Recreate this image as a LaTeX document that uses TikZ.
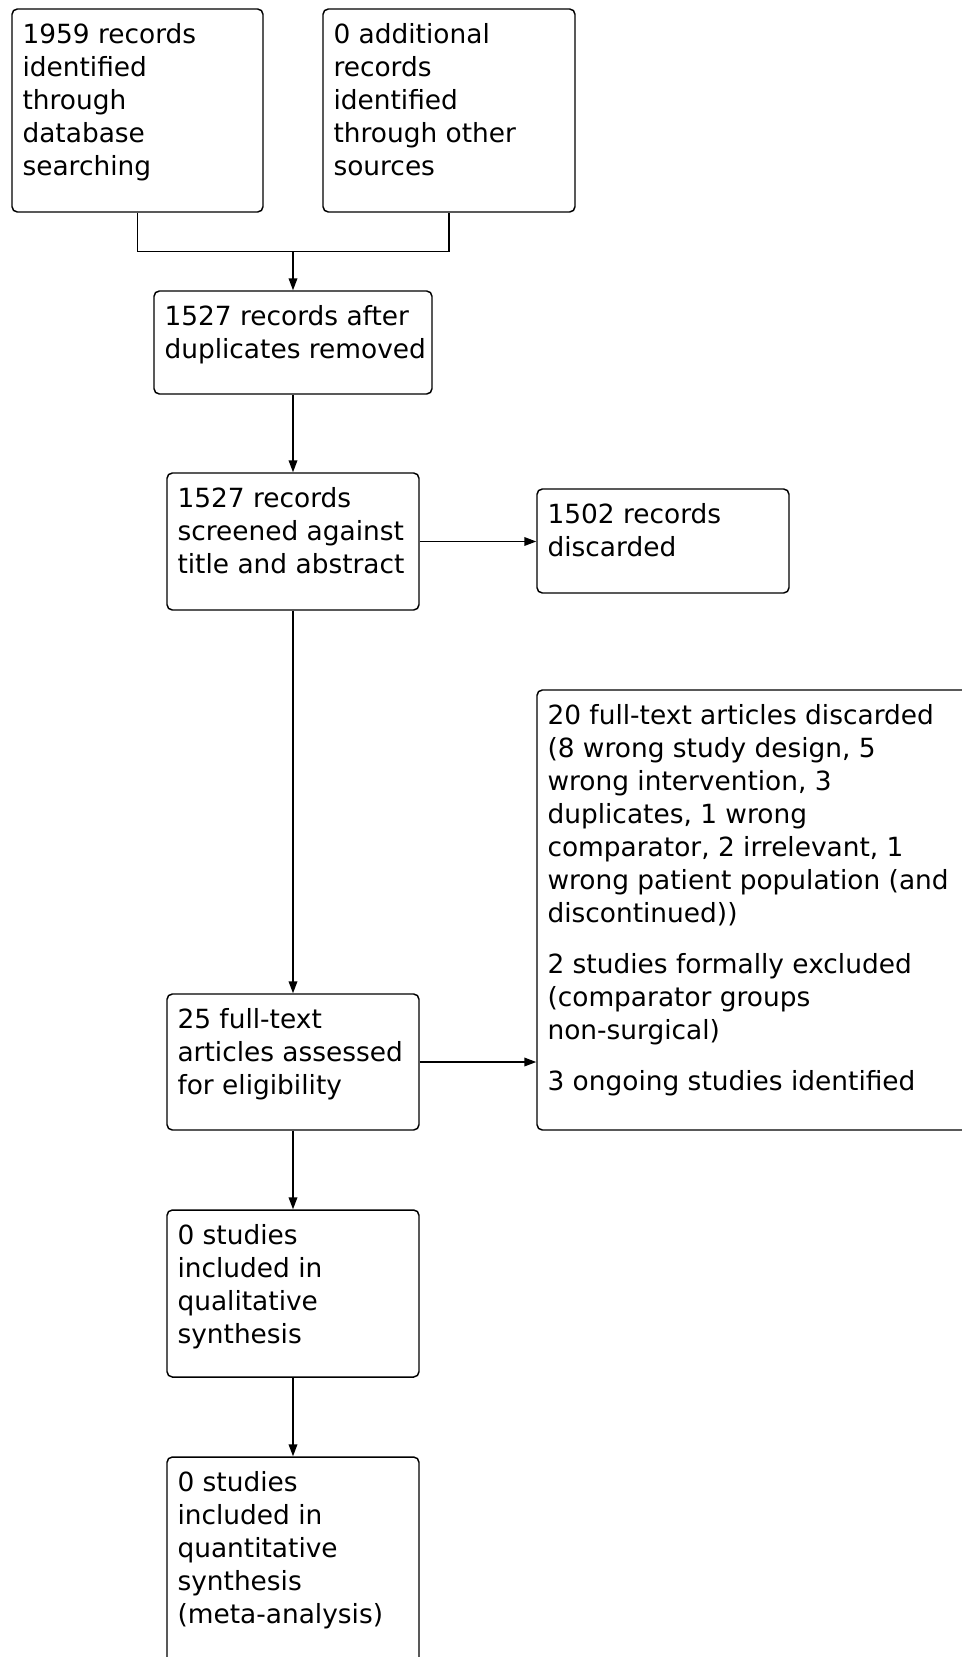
\documentclass[tikz,border=0pt]{standalone}
\usepackage{fontspec}
\setmainfont{DejaVu Sans}
\usetikzlibrary{arrows.meta,fit}
\begin{document}
\begin{tikzpicture}[x=0.75pt,y=-0.75pt,
  box/.style={draw, line width=1.1pt, rounded corners=4pt, inner sep=0pt},
  txt/.style={anchor=north west, inner sep=0pt, align=left,
    font=\fontsize{19.8pt}{24.75pt}\selectfont},
  conn/.style={draw, line width=1.1pt},
  arr/.style={draw, line width=1.1pt, -{Triangle[length=9pt,width=6.5pt]}}]
\useasboundingbox (0,0) rectangle (961,1657);
\fill[white] (0,0) rectangle (961,1657);
% boxes
\node[box, fit={(12,9)(263,212)}] (A) {};
\node[box, fit={(323,9)(575,212)}] (B) {};
\node[box, fit={(154,291)(432,394)}] (C) {};
\node[box, fit={(167,473)(419,610)}] (D) {};
\node[box, fit={(537,489)(789,593)}] (E) {};
\node[box, fit={(537,690)(985,1130)}] (G) {};
\node[box, fit={(167,994)(419,1130)}] (F) {};
\node[box, fit={(167,1210)(419,1377)}] (H) {};
\node[box, fit={(167,1457)(419,1700)}] (I) {};
% texts
\node[txt] (At) at ([shift={(11,12)}]A.north west) {\strut 1959 records\\identified\\through\\database\\searching};
\node[txt] (Bt) at ([shift={(11,12)}]B.north west) {\strut 0 additional\\records\\identified\\through other\\sources};
\node[txt] (Ct) at ([shift={(11,12)}]C.north west) {\strut 1527 records after\\duplicates removed};
\node[txt] (Dt) at ([shift={(11,12)}]D.north west) {\strut 1527 records\\screened against\\title and abstract};
\node[txt] (Et) at ([shift={(11,12)}]E.north west) {\strut 1502 records\\discarded};
\node[txt] (Gt) at ([shift={(11,12)}]G.north west) {\strut 20 full-text articles discarded\\(8 wrong study design, 5\\wrong intervention, 3\\duplicates, 1 wrong\\comparator, 2 irrelevant, 1\\wrong patient population (and\\discontinued))\\[13.5pt]2 studies formally excluded\\(comparator groups\\non-surgical)\\[13.5pt]3 ongoing studies identified};
\node[txt] (Ft) at ([shift={(11,12)}]F.north west) {\strut 25 full-text\\articles assessed\\for eligibility};
\node[txt] (Ht) at ([shift={(11,12)}]H.north west) {\strut 0 studies\\included in\\qualitative\\synthesis};
\node[txt] (It) at ([shift={(11,12)}]I.north west) {\strut 0 studies\\included in\\quantitative\\synthesis\\(meta-analysis)};
% connectors
\path (C.north) ++(0,-39) coordinate (J);
\draw[conn] (A.south) |- (J) -| (B.south);
\draw[arr] (J) -- (C.north);
\draw[arr] (C.south) -- (D.north);
\draw[arr] (D.east) -- (D.east -| E.west);
\draw[arr] (D.south) -- (F.north);
\draw[arr] (F.east) -- (F.east -| G.west);
\draw[arr] (F.south) -- (H.north);
\draw[arr] (H.south) -- (I.north);
\end{tikzpicture}
\end{document}
